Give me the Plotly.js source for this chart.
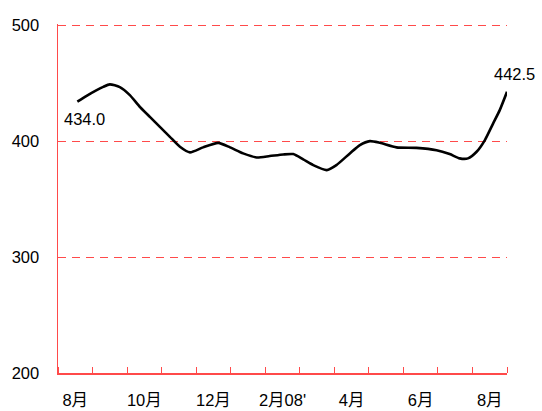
<!DOCTYPE html>
<html>
<head>
<meta charset="utf-8">
<script src="https://cdn.plot.ly/plotly-3.0.1.min.js"></script>
<style>html,body{margin:0;padding:0;background:#fff;}#chart{width:542px;height:411px;}</style>
</head>
<body>
<div id="chart"></div>
<script>
// Month positions (0 = start of Aug 07, 13 = end of Aug 08)
const xPos = [0.56,0.83,1.12,1.31,1.50,1.79,2.08,2.37,2.66,2.95,3.24,3.53,3.82,4.20,4.64,4.98,5.36,5.75,6.13,6.52,6.81,7.10,7.39,7.78,8.06,8.45,8.74,9.03,9.32,9.80,10.38,10.96,11.34,11.63,11.87,12.12,12.36,12.60,12.79,13.0];
const values = [434.0,439.1,444.0,446.8,448.9,446.6,439.7,429.6,420.9,412.3,403.7,395.1,390.3,394.6,398.5,394.6,389.4,385.9,387.1,388.5,388.8,384.2,379.3,375.0,379.3,389.4,396.6,400.0,398.5,394.6,394.2,392.2,388.8,385.1,385.1,390.8,400.9,415.3,426.7,442.5];
const monthTicks = [0,1,2,3,4,5,6,7,8,9,10,11,12,13];
const labelPos = [0.5,2.5,4.5,6.5,8.5,10.5,12.5];
const labelText = ['8月','10月','12月',"2月08'",'4月','6月','8月'];
const yTicks = [200,300,400,500];

const red = '#ff4a4a';
const font = {family:'"Liberation Sans", Arial, "Noto Sans CJK SC", sans-serif', size:16.5, color:'#000'};

const traces = [
  {x:xPos, y:values, type:'scatter', mode:'lines', line:{color:'#000', width:2.6, shape:'spline', smoothing:0.6}, hoverinfo:'skip', showlegend:false}
];

const n = values.length;
const layout = {
  width:542, height:411,
  margin:{l:58, r:35, t:24, b:38},
  paper_bgcolor:'#fff', plot_bgcolor:'#fff',
  font:font,
  showlegend:false,
  xaxis:{range:[0,13], tickvals:labelPos, ticktext:labelText, ticks:'', ticklabelstandoff:12, tickfont:font,
         minor:{tickvals:monthTicks, ticks:'inside', ticklen:6, tickcolor:red, tickwidth:1, showgrid:false},
         showline:true, linecolor:red, linewidth:1.5, showgrid:false, zeroline:false, fixedrange:true},
  yaxis:{range:[200,501], tickvals:yTicks, ticks:'inside', ticklen:4, tickcolor:red, ticklabelstandoff:14,
         showline:true, linecolor:red, linewidth:1.5, showgrid:true, gridcolor:red, gridwidth:1, griddash:'8px,6px',
         zeroline:false, tickfont:font},
  annotations:[
    {x:xPos[0], y:values[0], text:values[0].toFixed(1), showarrow:false, xanchor:'left', yanchor:'top', xshift:-15, yshift:-6, font:font},
    {x:xPos[n-1], y:values[n-1], text:values[n-1].toFixed(1), showarrow:false, xanchor:'center', yanchor:'bottom', xshift:7, yshift:7, font:font}
  ]
};

Plotly.newPlot('chart', traces, layout, {staticPlot:true, displayModeBar:false});
</script>
</body>
</html>
